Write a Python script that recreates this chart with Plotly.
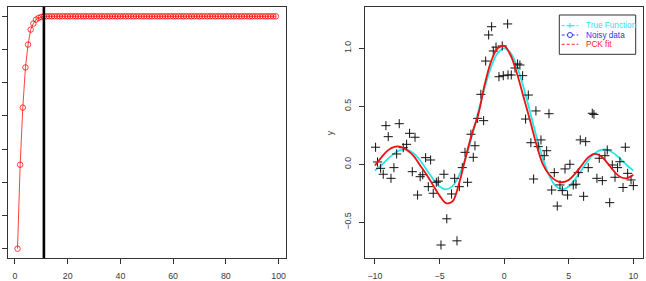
import plotly.graph_objects as go

W, H = 646, 281

# ---------------- Left panel data ----------------
iter_x = list(range(1, 100))
conv_values = [0.0, 2.53, 4.25, 5.46, 6.15, 6.6, 6.78, 6.9, 6.95, 6.98,
               7.0, 7.0, 7.0, 7.0, 7.0, 7.0, 7.0, 7.0, 7.0, 7.0,
               7.0, 7.0, 7.0, 7.0, 7.0, 7.0, 7.0, 7.0, 7.0, 7.0,
               7.0, 7.0, 7.0, 7.0, 7.0, 7.0, 7.0, 7.0, 7.0, 7.0,
               7.0, 7.0, 7.0, 7.0, 7.0, 7.0, 7.0, 7.0, 7.0, 7.0,
               7.0, 7.0, 7.0, 7.0, 7.0, 7.0, 7.0, 7.0, 7.0, 7.0,
               7.0, 7.0, 7.0, 7.0, 7.0, 7.0, 7.0, 7.0, 7.0, 7.0,
               7.0, 7.0, 7.0, 7.0, 7.0, 7.0, 7.0, 7.0, 7.0, 7.0,
               7.0, 7.0, 7.0, 7.0, 7.0, 7.0, 7.0, 7.0, 7.0, 7.0,
               7.0, 7.0, 7.0, 7.0, 7.0, 7.0, 7.0, 7.0, 7.0]
cutoff_iter = 11
left_xticks = [0, 20, 40, 60, 80, 100]
left_yticks = [0, 1, 2, 3, 4, 5, 6, 7]

# ---------------- Right panel data ----------------
grid_x = [-10, -9.5, -9, -8.5, -8, -7.5, -7, -6.5, -6, -5.5, -5, -4.5, -4, -3.5,
          -3, -2.5, -2, -1.5, -1, -0.5, 0, 0.5, 1, 1.5, 2, 2.5, 3, 3.5, 4, 4.5,
          5, 5.5, 6, 6.5, 7, 7.5, 8, 8.5, 9, 9.5, 10]
true_y = [-0.054, -0.008, 0.046, 0.094, 0.124, 0.125, 0.094, 0.033, -0.047, -0.128,
          -0.192, -0.217, -0.189, -0.100, 0.047, 0.239, 0.455, 0.665, 0.841, 0.959,
          1.0, 0.959, 0.841, 0.665, 0.455, 0.239, 0.047, -0.100, -0.189, -0.217,
          -0.192, -0.128, -0.047, 0.033, 0.094, 0.125, 0.124, 0.094, 0.046, -0.008,
          -0.054]
pck_y = [-0.01, 0.06, 0.12, 0.15, 0.15, 0.12, 0.07, -0.01, -0.09, -0.18,
         -0.27, -0.335, -0.32, -0.17, 0.05, 0.26, 0.43, 0.69, 0.89, 1.0,
         1.02, 0.94, 0.78, 0.58, 0.38, 0.17, 0.0, -0.09, -0.14, -0.155,
         -0.135, -0.08, -0.01, 0.06, 0.09, 0.07, 0.01, -0.06, -0.11, -0.12,
         -0.09]
noisy_x = [-9.95, -9.8, -9.56, -9.36, -9.15, -8.97, -8.76, -8.53, -8.32, -8.12,
           -7.81, -7.55, -7.32, -7.11, -6.9, -6.7, -6.5, -6.3, -6.08, -5.87,
           -5.69, -5.49, -5.25, -5.1, -4.89, -4.66, -4.44, -4.07, -3.83, -3.65,
           -3.47, -3.24, -3.03, -2.83, -2.57, -2.39, -2.26, -2.05, -1.8, -1.59,
           -1.43, -1.2, -0.97, -0.84, -0.63, -0.4, -0.15, -0.07, 0.27, 0.3,
           0.55, 0.84, 1.04, 1.22, 1.43, 1.66, 1.87, 2.07, 2.28, 2.46,
           2.64, 2.85, 3.1, 3.29, 3.47, 3.68, 3.88, 4.11, 4.32, 4.5,
           4.71, 4.91, 5.09, 5.35, 5.56, 5.74, 5.89, 6.15, 6.31, 6.51,
           6.82, 6.95, 7.18, 7.36, 7.6, 7.8, 7.98, 8.17, 8.37, 8.58,
           8.78, 8.96, 9.2, 9.38, 9.56, 9.82, 10.0]
noisy_y = [0.147, 0.02, -0.035, -0.086, 0.333, 0.238, -0.121, -0.029, 0.089, 0.35,
           0.143, 0.172, 0.267, -0.064, 0.233, -0.265, -0.107, -0.09, 0.057, -0.193,
           0.037, -0.25, -0.155, -0.145, -0.696, -0.086, -0.47, -0.256, -0.121, -0.66,
           -0.193, -0.029, 0.103, -0.155, 0.259, 0.06, 0.16, 0.396, 0.603, 0.376,
           0.89, 1.115, 1.186, 0.977, 1.01, 0.755, 1.02, 0.764, 1.21, 0.77,
           0.77, 0.83, 0.865, 0.856, 0.764, 0.39, 0.597, 0.186, -0.127, 0.46,
           0.152, 0.21, 0.074, 0.117, 0.436, -0.222, -0.072, -0.36, -0.178, -0.227,
           -0.04, -0.265, 0.0, -0.178, -0.172, -0.072, 0.21, -0.276, 0.195, -0.029,
           0.44, 0.43, -0.121, 0.052, -0.141, 0.074, 0.123, -0.331, -0.006, -0.112,
           -0.029, 0.022, -0.2, 0.147, -0.078, -0.135, -0.184]
right_xticks = [-10, -5, 0, 5, 10]
right_yticks = [-0.5, 0.0, 0.5, 1.0]
right_yticktext = ["\u22120.5", "0.0", "0.5", "1.0"]
right_xticktext = ["\u221210", "\u22125", "0", "5", "10"]
legend_names = ["True Function", "Noisy data", "PCK fit"]
legend_colors = ["#22E8E8", "#3333EE", "#EE2222"]

FONT = "Liberation Sans, Arial, sans-serif"
AXCOL = "#333333"
TICKFONT = dict(family=FONT, size=8.8, color="#3a3a3a")


def px(x):
    return x / W


def py(y):
    return 1 - y / H


fig = go.Figure()

# Left panel
fig.add_trace(go.Scatter(
    x=iter_x, y=conv_values, mode="lines+markers",
    line=dict(color="rgba(255,0,0,0.75)", width=1),
    marker=dict(symbol="circle-open", size=5.5, color="rgba(255,0,0,0.75)",
                line=dict(width=1)),
    xaxis="x", yaxis="y", showlegend=False, hoverinfo="skip"))

# Right panel
fig.add_trace(go.Scatter(
    x=grid_x, y=true_y, mode="lines", line=dict(color="#22E8E8", width=1.8, shape="spline"),
    xaxis="x2", yaxis="y2", showlegend=False))
fig.add_trace(go.Scatter(
    x=noisy_x, y=noisy_y, mode="markers",
    marker=dict(symbol="cross-thin", size=6.5, color="#111111",
                line=dict(width=1, color="#111111")),
    xaxis="x2", yaxis="y2", showlegend=False))
fig.add_trace(go.Scatter(
    x=grid_x, y=pck_y, mode="lines", line=dict(color="#EE1111", width=1.8, shape="spline"),
    xaxis="x2", yaxis="y2", showlegend=False))

common_ax = dict(showline=True, mirror=True, linecolor=AXCOL, linewidth=1,
                 ticks="outside", ticklen=5, tickcolor=AXCOL, tickwidth=1,
                 showgrid=False, zeroline=False, tickfont=TICKFONT)

box_top, box_bot = 7, 258
ydom = [py(box_bot), py(box_top)]

fig.update_layout(
    width=W, height=H, margin=dict(l=0, r=0, t=0, b=0),
    paper_bgcolor="white", plot_bgcolor="white",
    font=dict(family=FONT),
    xaxis=dict(domain=[px(7.5), px(286)], range=[-2.8, 102.8], tickvals=left_xticks,
               anchor="y", ticklabelstandoff=4, **common_ax),
    yaxis=dict(domain=ydom, range=[-0.28, 7.28], tickvals=left_yticks,
               showticklabels=False, anchor="x", **common_ax),
    xaxis2=dict(domain=[px(365), px(643.3)], range=[-10.77, 10.77], tickvals=right_xticks,
                ticktext=right_xticktext, anchor="y2", ticklabelstandoff=4, **common_ax),
    yaxis2=dict(domain=ydom, range=[-0.808, 1.356], tickvals=right_yticks,
                ticktext=right_yticktext, tickangle=-90, anchor="x2",
                ticklabelstandoff=4, **common_ax),
)

shapes = []
# vertical cutoff line in left panel
shapes.append(dict(type="line", xref="x", yref="y domain", x0=cutoff_iter, x1=cutoff_iter,
                   y0=0, y1=1, line=dict(color="black", width=2.6)))

# custom legend
lx0, lx1, ly0, ly1 = 559.3, 635.7, 15, 54.3
shapes.append(dict(type="rect", xref="paper", yref="paper", x0=px(lx0), x1=px(lx1),
                   y0=py(ly1), y1=py(ly0), line=dict(color=AXCOL, width=1),
                   fillcolor="white", layer="above"))
rows = [25.7, 35.0, 44.3]
for i, r in enumerate(rows):
    c = legend_colors[i]
    shapes.append(dict(type="line", xref="paper", yref="paper", x0=px(561.7), x1=px(578.3),
                       y0=py(r), y1=py(r), line=dict(color=c, width=1, dash="3px,2px"),
                       layer="above"))
    fig.add_annotation(x=px(584), y=py(r), xref="paper", yref="paper", text=legend_names[i],
                       showarrow=False, xanchor="left", yanchor="middle",
                       font=dict(family=FONT, size=8.2, color=c))
# "+" symbol for true function
shapes.append(dict(type="line", xref="paper", yref="paper", x0=px(567.3), x1=px(572.7),
                   y0=py(rows[0]), y1=py(rows[0]), line=dict(color=legend_colors[0], width=1), layer="above"))
shapes.append(dict(type="line", xref="paper", yref="paper", x0=px(570), x1=px(570),
                   y0=py(rows[0] - 2.7), y1=py(rows[0] + 2.7), line=dict(color=legend_colors[0], width=1), layer="above"))
# circle symbol for noisy data
shapes.append(dict(type="circle", xref="paper", yref="paper", x0=px(567.5), x1=px(572.5),
                   y0=py(rows[1] + 2.5), y1=py(rows[1] - 2.5), line=dict(color=legend_colors[1], width=1),
                   fillcolor="white", layer="above"))

fig.update_layout(shapes=shapes)

# y axis label
fig.add_annotation(x=px(330), y=py(133.3), xref="paper", yref="paper", text="y",
                   showarrow=False, textangle=-90, xanchor="center", yanchor="middle",
                   font=dict(family=FONT, size=8.8, color="#3a3a3a"))

fig.write_html("out.html")
